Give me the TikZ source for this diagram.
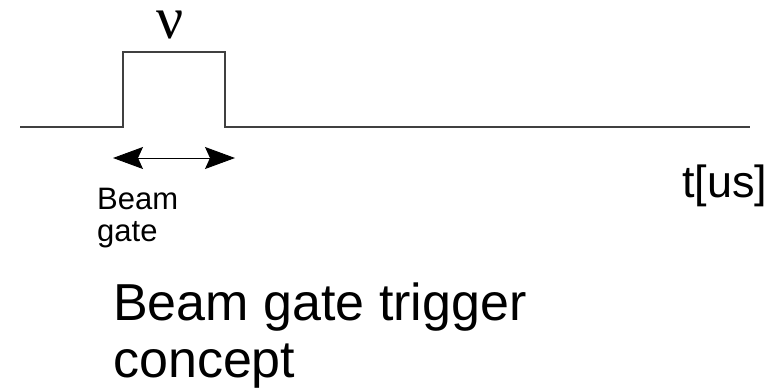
\documentclass[tikz,border=0pt]{standalone}
\usepackage{fontspec}
\setmainfont{Liberation Sans}
\newfontfamily\nufont{Liberation Serif}
\usetikzlibrary{arrows.meta}
\begin{document}
\begin{tikzpicture}[x=1pt,y=-1pt,
  sig/.style={draw=black!75, line width=1.3pt},
  gatearrow/.style={draw=black, line width=0.9pt, {Stealth[length=30pt,width=22pt,inset=5pt]}-{Stealth[length=30pt,width=22pt,inset=5pt]}},
  lbl/.style={inner sep=0pt, anchor=base west, align=left}]
\useasboundingbox (0,0) rectangle (783,391);
\coordinate (s0) at (20,127);
\coordinate (s1) at (123,127);
\coordinate (s2) at (123,52);
\coordinate (s3) at (225,52);
\coordinate (s4) at (225,127);
\coordinate (s5) at (750,127);
\draw[sig] (s0) -- (s1) -- (s2) -- (s3) -- (s4) -- (s5);
\coordinate (a0) at (113,158);
\coordinate (a1) at (235,158);
\draw[gatearrow] (a0) -- (a1);
\node[inner sep=0pt, anchor=base, font=\nufont\fontsize{60}{60}\selectfont] (nu) at (170,38) {ν};
\node[lbl, font=\fontsize{31}{32}\selectfont] (bg) at (97,241) {Beam\\gate};
\node[lbl, font=\fontsize{45}{50}\selectfont] (tus) at (682,197) {t[us]};
\node[lbl, font=\fontsize{52}{57}\selectfont] (title) at (113,377) {Beam gate trigger\\concept};
\end{tikzpicture}
\end{document}
